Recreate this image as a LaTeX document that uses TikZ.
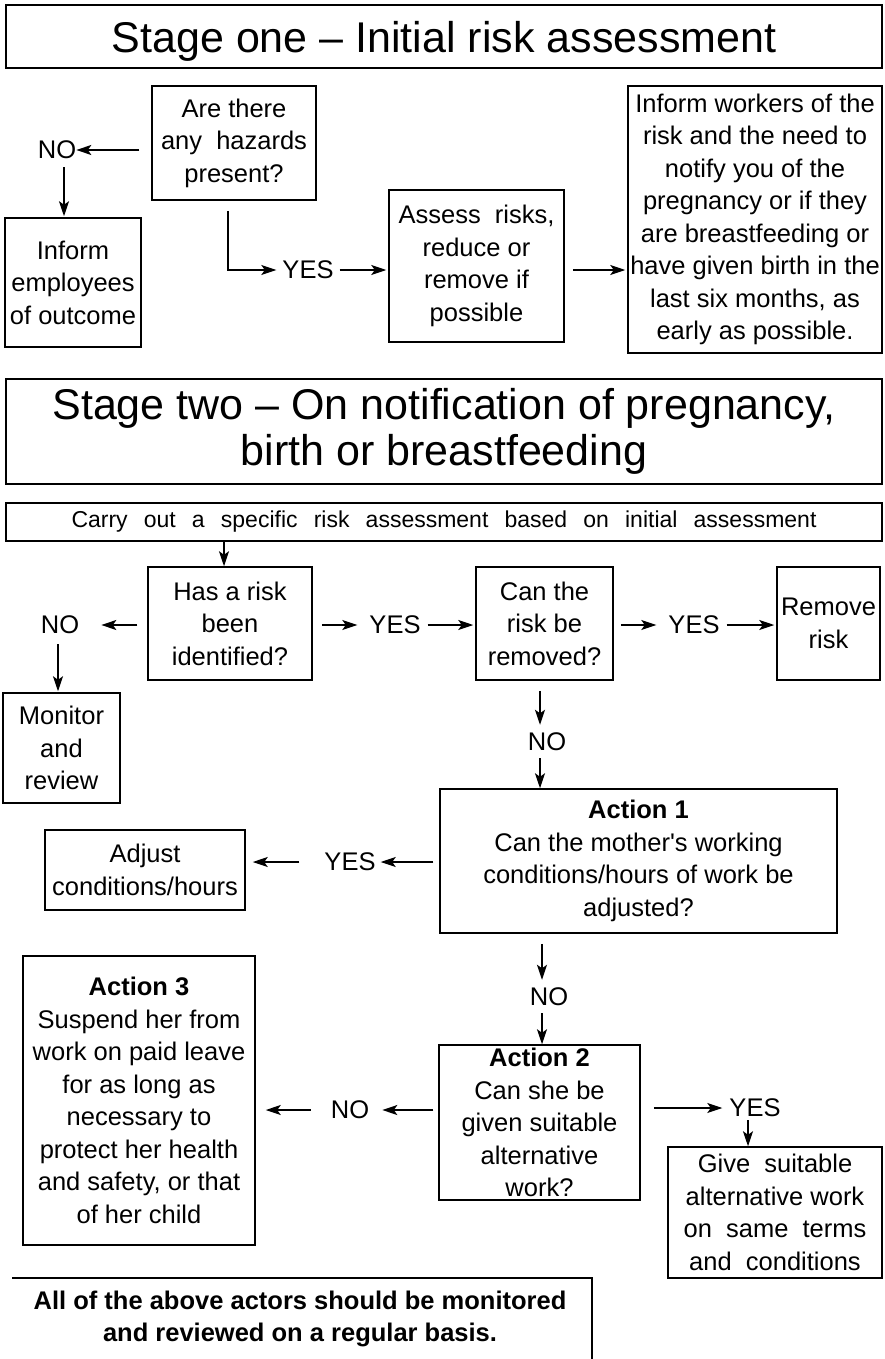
\documentclass[tikz,border=0pt]{standalone}
\usepackage{fontspec}
\setmainfont{Liberation Sans}
\usetikzlibrary{arrows.meta}
\newcommand\bodyfont{\fontsize{25.5}{32.5}\selectfont}
\newcommand\titlefont{\fontsize{43}{46}\selectfont}
\begin{document}
\begin{tikzpicture}[x=1pt,y=-1pt,
  box/.style={draw, line width=1.5pt, inner sep=0pt, align=center, font=\bodyfont},
  lab/.style={inner sep=0pt, font=\bodyfont},
  arr/.style={line width=1.5pt, -{Stealth[length=15pt,width=10pt,inset=3.5pt]}},
  ln/.style={line width=1.5pt}]
\useasboundingbox (0,0) rectangle (884,1359);
% ---------- Stage one ----------
\node[box, font=\titlefont, text depth=0pt, minimum width=876pt, minimum height=63pt] (t1) at (444,36.5) {Stage one -- Initial risk assessment};
\node[box, minimum width=164pt, minimum height=114pt] (q1) at (234,143) {Are there\\any\ \ hazards\\present?};
\node[lab] (no1) at (57,150) {NO};
\node[box, minimum width=136pt, minimum height=129pt] (e1) at (73,282.5) {Inform\\employees\\of outcome};
\node[lab] (yes1) at (308,270) {YES};
\node[box, minimum width=175pt, minimum height=152pt] (a1) at (476.5,266) {Assess\ \ risks,\\reduce or\\remove if\\possible};
\node[box, minimum width=254pt, minimum height=267pt] (w1) at (755,219.5) {Inform workers of the\\risk and the need to\\notify you of the\\pregnancy or if they\\are breastfeeding or\\have given birth in the\\last six months, as\\early as possible.};
\draw[arr, shorten <=12pt] (q1.west |- no1) -- (no1.east);
\draw[arr, shorten <=8pt, shorten >=1pt] ([xshift=7pt]no1.south) -- ([xshift=7pt]no1.south |- e1.north);
\draw[arr, shorten >=6pt] ([xshift=-6pt]q1.south) ++(0,10) |- (yes1.west);
\draw[arr, shorten <=6pt, shorten >=2pt] (yes1.east) -- (a1.west |- yes1);
\draw[arr, shorten <=8pt, shorten >=2pt] (a1.east |- yes1) -- (w1.west |- yes1);
% ---------- Stage two ----------
\node[box, font=\titlefont, minimum width=876pt, minimum height=105pt] (t2) at (444,431.5) {Stage two -- On notification of pregnancy,\\birth or breastfeeding};
\node[box, font=\fontsize{23}{26}\selectfont, minimum width=876pt, minimum height=38pt] (c1) at (444,522) {\makebox[745pt][s]{Carry out a specific risk assessment based on initial assessment}};
\node[box, minimum width=164pt, minimum height=113pt] (r1) at (230,623.5) {Has a risk\\been\\identified?};
\node[lab] (no2) at (60,625) {NO};
\node[box, minimum width=117pt, minimum height=110pt] (m1) at (61.5,748) {Monitor\\and\\review};
\node[lab] (yes2) at (395,625) {YES};
\node[box, minimum width=137pt, minimum height=113pt] (r2) at (544.5,623.5) {Can the\\risk be\\removed?};
\node[lab] (yes3) at (694,625) {YES};
\node[box, minimum width=103pt, minimum height=113pt] (rm) at (828.5,623.5) {Remove\\risk};
\node[lab] (no3) at (547,742) {NO};
\node[box, minimum width=397pt, minimum height=144pt] (act1) at (638.5,861) {\textbf{Action 1}\\Can the mother\textquotesingle s working\\conditions/hours of work be\\adjusted?};
\node[lab] (yes4) at (350,862) {YES};
\node[box, minimum width=200pt, minimum height=80pt] (adj) at (145,870) {Adjust\\conditions/hours};
\node[lab] (no4) at (549,997) {NO};
\node[box, minimum width=201pt, minimum height=155pt] (act2) at (539.5,1122.5) {\textbf{Action 2}\\Can she be\\given suitable\\alternative\\work?};
\node[lab] (no5) at (350,1110) {NO};
\node[box, minimum width=232pt, minimum height=289pt] (act3) at (139,1100.5) {\textbf{Action 3}\\Suspend her from\\work on paid leave\\for as long as\\necessary to\\protect her health\\and safety, or that\\of her child};
\node[lab] (yes5) at (755,1108) {YES};
\node[box, minimum width=214pt, minimum height=131pt] (give) at (775,1212.5) {Give\ \ suitable\\alternative work\\on\ \ same\ \ terms\\and\ \ conditions};
\node[lab, font=\bodyfont\bfseries, align=center] (all) at (300,1319) {All\ of\ the\ above\ actors\ should\ be\ monitored\\and\ reviewed\ on\ a\ regular\ basis.};
\draw[ln] (12,1278) -- (592,1278) -- (592,1365);
% connectors stage two
\draw[arr] ([xshift=-6pt]r1.north |- c1.south) -- ([xshift=-6pt]r1.north);
\draw[arr, shorten <=10pt, shorten >=22pt] (r1.west |- no2) -- (no2.east);
\draw[arr, shorten <=10pt, shorten >=1pt] ([xshift=-2pt]no2.south) -- ([xshift=-2pt]no2.south |- m1.north);
\draw[arr, shorten <=9pt, shorten >=12pt] (r1.east |- yes2) -- (yes2.west);
\draw[arr, shorten <=7pt, shorten >=2pt] (yes2.east) -- (r2.west |- yes2);
\draw[arr, shorten <=7pt, shorten >=12pt] (r2.east |- yes3) -- (yes3.west);
\draw[arr, shorten <=7pt, shorten >=2pt] (yes3.east) -- (rm.west |- yes3);
\draw[arr, shorten <=10pt, shorten >=8pt] ([xshift=-7pt]no3.north |- r2.south) -- ([xshift=-7pt]no3.north);
\draw[arr, shorten <=7pt] ([xshift=-7pt]no3.south) -- ([xshift=-7pt]no3.south |- act1.north);
\draw[arr, shorten <=6pt, shorten >=5pt] (act1.west |- yes4) -- (yes4.east);
\draw[arr, shorten <=25pt, shorten >=7pt] (yes4.west) -- (adj.east |- yes4);
\draw[arr, shorten <=10pt, shorten >=8pt] ([xshift=-7pt]no4.north |- act1.south) -- ([xshift=-7pt]no4.north);
\draw[arr, shorten <=7pt] ([xshift=-7pt]no4.south) -- ([xshift=-7pt]no4.south |- act2.north);
\draw[arr, shorten <=5pt, shorten >=13pt] (act2.west |- no5) -- (no5.east);
\draw[arr, shorten <=20pt, shorten >=10pt] (no5.west) -- (act3.east |- no5);
\draw[arr, shorten <=13pt, shorten >=7pt] (act2.east |- yes5) -- (yes5.west);
\draw[arr, shorten <=3pt] ([xshift=-7pt]yes5.south) -- ([xshift=-7pt]yes5.south |- give.north);
\end{tikzpicture}
\end{document}
